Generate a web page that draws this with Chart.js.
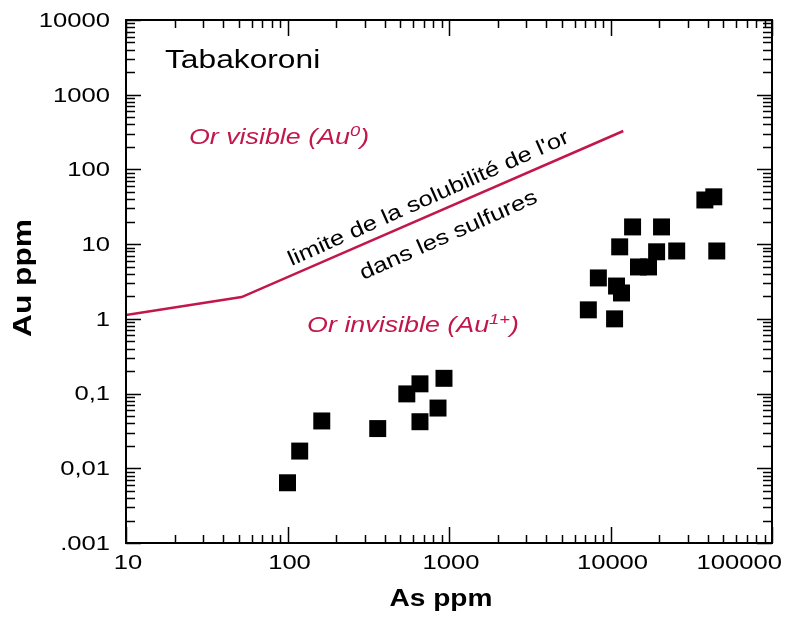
<!DOCTYPE html>
<html>
<head>
<meta charset="utf-8">
<script src="https://cdn.jsdelivr.net/npm/chart.js@4/dist/chart.umd.min.js"></script>
<style>
  body { margin: 0; background: #fff; }
  canvas { display: block; }
</style>
</head>
<body>
<canvas id="chart" width="792" height="619"></canvas>
<script>
// Samples (As ppm vs Au ppm)
const asPpm = [100, 119, 163, 362, 548, 661, 931, 661, 855,
  7290, 10600, 8410, 10900, 11700, 11400, 14900, 17200, 13700, 20700, 19300, 25700, 45500, 38400, 43600];
const auPpm = [0.0064, 0.017, 0.043, 0.034, 0.099, 0.135, 0.16, 0.042, 0.064,
  1.32, 1.0, 3.53, 2.75, 2.22, 9.2, 4.95, 4.95, 17, 17, 7.9, 8.1, 8.1, 39, 43];

// Gold solubility limit in sulfides
const limitAs = [10, 52, 12000];
const limitAu = [1.13, 1.96, 327];

// Axis ticks
const xTickValues = [10, 100, 1000, 10000, 100000];
const xTickLabels = ['10', '100', '1000', '10000', '100000'];
const yTickValues = [0.001, 0.01, 0.1, 1, 10, 100, 1000, 10000];
const yTickLabels = ['.001', '0,01', '0,1', '1', '10', '100', '1000', '10000'];

const red = '#c2174b';
const FONT = '"Liberation Sans", Arial, sans-serif';
const SX = 1.22; // the figure uses a wide font

// draw a run of text pieces (for superscripts), stretched horizontally
function drawRich(ctx, parts, x, y, opt) {
  opt = opt || {};
  ctx.save();
  ctx.translate(x, y);
  if (opt.rotate) ctx.rotate(opt.rotate);
  ctx.scale(SX, 1);
  ctx.textBaseline = opt.baseline || 'alphabetic';
  ctx.textAlign = 'left';
  let total = 0;
  parts.forEach(p => { ctx.font = p.font; total += ctx.measureText(p.t).width; });
  let cx = 0;
  if (opt.align === 'center') cx = -total / 2;
  if (opt.align === 'right') cx = -total;
  parts.forEach(p => {
    ctx.font = p.font;
    ctx.fillStyle = p.color || opt.color || '#000';
    ctx.fillText(p.t, cx, p.dy || 0);
    cx += ctx.measureText(p.t).width;
  });
  ctx.restore();
  return total * SX;
}

const framePlugin = {
  id: 'frame',
  afterDraw(chart) {
    const ctx = chart.ctx;
    const a = chart.chartArea;
    const xs = chart.scales.x, ys = chart.scales.y;

    ctx.save();
    ctx.strokeStyle = '#000';
    ctx.lineWidth = 1.5;
    ctx.beginPath();
    // x tick marks, top and bottom, pointing in
    for (let d = 10; d <= 100000; d *= 10) {
      for (let m = 1; m <= 9; m++) {
        const v = d * m;
        if (v > 100000) break;
        const px = Math.round(xs.getPixelForValue(v)) + 0.5;
        const len = m === 1 ? 16 : 8;
        ctx.moveTo(px, a.bottom); ctx.lineTo(px, a.bottom - len);
        ctx.moveTo(px, a.top); ctx.lineTo(px, a.top + len);
      }
    }
    // y tick marks, left and right, pointing in
    for (let d = 0.001; d <= 10000; d *= 10) {
      for (let m = 1; m <= 9; m++) {
        const v = d * m;
        if (v > 10001) break;
        const py = Math.round(ys.getPixelForValue(v)) + 0.5;
        const len = m === 1 ? 15 : 9;
        ctx.moveTo(a.left, py); ctx.lineTo(a.left + len, py);
        ctx.moveTo(a.right, py); ctx.lineTo(a.right - len, py);
      }
    }
    ctx.stroke();
    ctx.lineWidth = 2;
    ctx.strokeRect(a.left, a.top, a.right - a.left, a.bottom - a.top);
    ctx.restore();

    // tick labels
    const tf = '21px ' + FONT;
    xTickValues.forEach((v, i) => {
      ctx.font = tf;
      const w = ctx.measureText(xTickLabels[i]).width * SX;
      let cx = xs.getPixelForValue(v) + 2;
      if (cx + w / 2 > chart.width - 10) cx = chart.width - 10 - w / 2;
      drawRich(ctx, [{ t: xTickLabels[i], font: tf }], cx, a.bottom + 20, { align: 'center', baseline: 'middle' });
    });
    yTickValues.forEach((v, i) => {
      drawRich(ctx, [{ t: yTickLabels[i], font: tf }], a.left - 16, ys.getPixelForValue(v) + 1, { align: 'right', baseline: 'middle' });
    });

    // axis titles
    drawRich(ctx, [{ t: 'As ppm', font: 'bold 23px ' + FONT }], 441, 606, { align: 'center' });
    drawRich(ctx, [{ t: 'Au ppm', font: 'bold 26px ' + FONT }], 24, 278, { align: 'center', baseline: 'middle', rotate: -Math.PI / 2 });

    // annotations
    drawRich(ctx, [{ t: 'Tabakoroni', font: '26px ' + FONT }], 165, 68);
    const itf = 'italic 22px ' + FONT, sup = 'italic 15px ' + FONT;
    drawRich(ctx, [
      { t: 'Or visible (Au', font: itf },
      { t: '0', font: sup, dy: -8 },
      { t: ')', font: itf }
    ], 279, 144, { align: 'center', color: red });
    drawRich(ctx, [
      { t: 'Or invisible (Au', font: itf },
      { t: '1+', font: sup, dy: -8 },
      { t: ')', font: itf }
    ], 413, 332, { align: 'center', color: red });
    const rot = -24 * Math.PI / 180;
    drawRich(ctx, [{ t: "limite de la solubilité de l'or", font: '21px ' + FONT }], 431, 204, { align: 'center', rotate: rot });
    drawRich(ctx, [{ t: 'dans les sulfures', font: '21px ' + FONT }], 451, 241, { align: 'center', rotate: rot });
  }
};

const whiteBg = {
  id: 'whiteBg',
  beforeDraw(chart) {
    const ctx = chart.ctx;
    ctx.save();
    ctx.fillStyle = '#fff';
    ctx.fillRect(0, 0, chart.width, chart.height);
    ctx.restore();
  }
};

new Chart(document.getElementById('chart'), {
  type: 'scatter',
  data: {
    datasets: [
      {
        label: 'limite',
        data: limitAs.map((x, i) => ({ x, y: limitAu[i] })),
        showLine: true,
        borderColor: red,
        borderWidth: 2.5,
        pointRadius: 0,
        fill: false
      },
      {
        label: 'Tabakoroni',
        data: asPpm.map((x, i) => ({ x, y: auPpm[i] })),
        pointStyle: 'rect',
        pointRadius: 12,
        pointBorderWidth: 0,
        backgroundColor: '#000',
        borderColor: '#000'
      }
    ]
  },
  options: {
    responsive: false,
    animation: false,
    devicePixelRatio: 1,
    layout: { padding: { left: 126, right: 20, top: 20, bottom: 76 } },
    plugins: { legend: { display: false }, tooltip: { enabled: false } },
    scales: {
      x: { type: 'logarithmic', min: 10, max: 100000, display: false },
      y: { type: 'logarithmic', min: 0.001, max: 10000, display: false }
    }
  },
  plugins: [whiteBg, framePlugin]
});
</script>
</body>
</html>
